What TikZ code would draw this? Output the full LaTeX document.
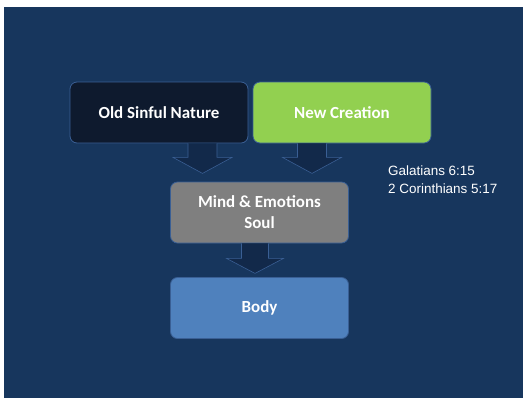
\documentclass[tikz,border=0pt]{standalone}
\usepackage{fontspec}
\setmainfont{Carlito}
\newfontfamily\refont{Liberation Sans}
\usetikzlibrary{calc}
\definecolor{bgblue}{HTML}{17365D}
\definecolor{edgeblue}{HTML}{3A5F94}
\definecolor{arrowfill}{HTML}{12294A}
\definecolor{oldfill}{HTML}{0E1A2E}
\definecolor{newfill}{HTML}{92D050}
\definecolor{mindfill}{HTML}{7F7F7F}
\definecolor{bodyfill}{HTML}{4F81BD}
\tikzset{
  box/.style={draw=edgeblue, line width=0.8bp, rounded corners=7bp, minimum width=178bp, minimum height=61bp,
    inner sep=0pt, align=center, text=white, font=\fontsize{17}{21}\selectfont\bfseries},
  blockarrow/.style={draw=edgeblue, fill=arrowfill, line width=0.6bp, line join=miter},
}
\begin{document}
\begin{tikzpicture}[x=1bp,y=-1bp]
\useasboundingbox (0,0) rectangle (523,398);
\fill[bgblue] (4,7) rectangle (523,398);
\node[box, fill=oldfill] (old) at (159,112.5) {Old Sinful Nature};
\node[box, fill=newfill] (new) at (342,112.5) {New Creation};
\node[box, fill=mindfill] (mind) at (259.5,212.5) {Mind \& Emotions\\Soul};
\node[box, fill=bodyfill] (body) at (259.5,308) {Body};
\node[anchor=north west, align=left, text=white, inner sep=0pt,
  font=\refont\fontsize{13.5}{18}\selectfont] (ref) at (388,166) {Galatians 6:15\\2 Corinthians 5:17};
% block arrows
\coordinate (a1) at ($(old.south)+(43.5,0)$);
\coordinate (a2) at ($(new.south)+(-30,0)$);
\coordinate (a3) at ($(mind.south)+(-4.5,0)$);
\draw[blockarrow] ($(a1)+(-14.5,0)$) -- ++(0,14) -- ++(-15,0) -- ($(a1)+(0,30)$) -- ($(a1)+(29.5,14)$) -- ++(-15,0) -- ($(a1)+(14.5,0)$);
\draw[blockarrow] ($(a2)+(-14.5,0)$) -- ++(0,14) -- ++(-15,0) -- ($(a2)+(0,30)$) -- ($(a2)+(29.5,14)$) -- ++(-15,0) -- ($(a2)+(14.5,0)$);
\draw[blockarrow] ($(a3)+(-13.5,0)$) -- ++(0,15) -- ++(-15,0) -- ($(a3)+(0,30)$) -- ($(a3)+(28.5,15)$) -- ++(-15,0) -- ($(a3)+(13.5,0)$);
\end{tikzpicture}
\end{document}
